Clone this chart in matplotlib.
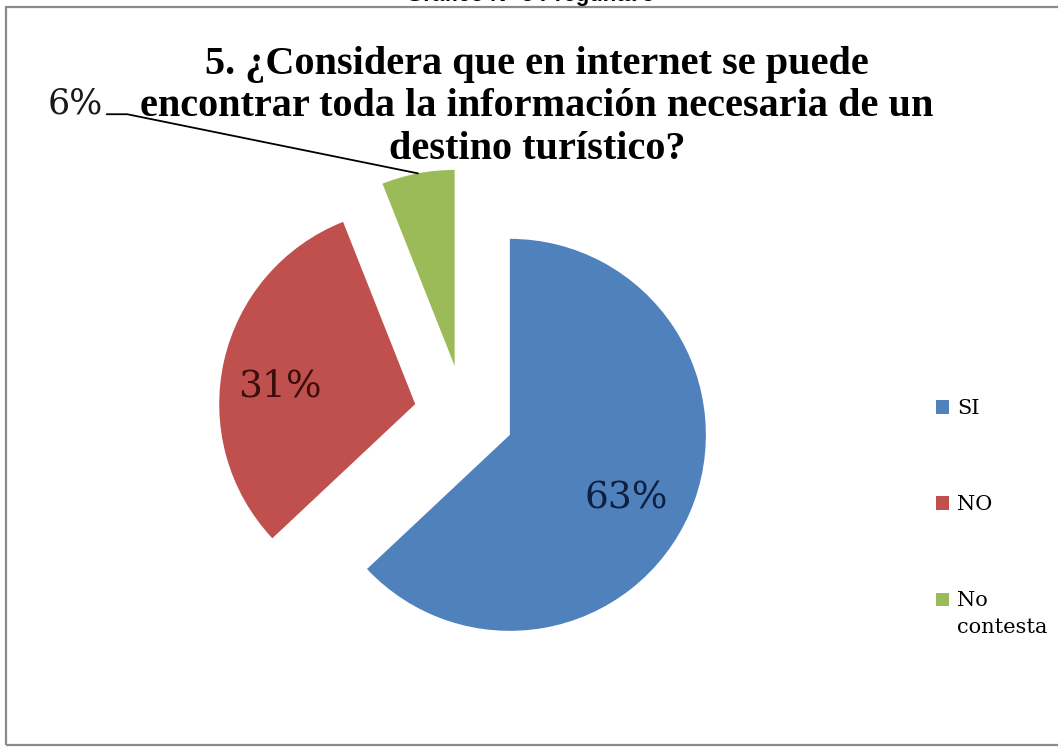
import matplotlib.pyplot as plt
from matplotlib.patches import Rectangle
from matplotlib.legend_handler import HandlerPatch
import numpy as np

# Survey answers for question 5
categories = ['SI', 'NO', 'No\ncontesta']
values = [63, 31, 6]
colors = ['#4F81BD', '#C0504D', '#9BBB59']
label_colors = ['#0f1f3d', '#3b0d0d', '#1a1a1a']

title = ('5. ¿Considera que en internet se puede\n'
         'encontrar toda la información necesaria de un\n'
         'destino turístico?')

W, H = 1058, 747
fig = plt.figure(figsize=(W / 100, H / 100), dpi=100)
ax = fig.add_axes([0, 0, 1, 1])

wedges, texts, autotexts = ax.pie(
    values, colors=colors, startangle=90, counterclock=False,
    explode=[0.255] * 3, radius=1,
    autopct=lambda p: f'{p:.0f}%', pctdistance=0.7,
    textprops=dict(family='DejaVu Serif', fontsize=27))
for wd, t, c, cat in zip(wedges, autotexts, label_colors, categories):
    t.set_color(c)
    wd.set_label(cat)

# nudge the in-slice labels to where they sit in the original layout
autotexts[0].set_position((0.827, -0.425))
autotexts[1].set_position((-0.939, 0.143))

# axes in units of the pie radius, pie centred where we want it on the page
cx, cy, R = 464, 415, 196
ax.set_xlim(-cx / R, (W - cx) / R)
ax.set_ylim(-(H - cy) / R, cy / R)
ax.axis('off')

# small slice gets its label outside with a leader line
autotexts[2].set_visible(False)
w = wedges[2]
mid = np.deg2rad((w.theta1 + w.theta2) / 2)
tip = (w.center[0] + w.r * np.cos(mid), w.center[1] + w.r * np.sin(mid))
ax.annotate(f'{values[2]}%', xy=tip, xytext=(-1.985, 1.59),
            ha='center', va='center', family='DejaVu Serif', fontsize=25,
            color=label_colors[2],
            arrowprops=dict(arrowstyle='-', color='black', lw=1.3,
                            relpos=(1.0, 0.18), shrinkA=1, shrinkB=0,
                            connectionstyle='angle,angleA=0,angleB=-11.5,rad=0'))

fig.text(537 / W, 1 - 107 / H, title, ha='center', va='center',
         family='Liberation Serif', fontweight='bold', fontsize=29,
         linespacing=1.2)

# heading of the page, cut off above the chart frame
fig.text(530 / W, 1 - 0.6 / H, 'Gráfico N° 5 Pregunta 5', ha='center',
         va='baseline', family='Liberation Sans', fontweight='bold',
         fontsize=16)


def top_line_square(legend, orig_handle, xdescent, ydescent, width, height,
                    fontsize):
    # keep the marker level with the first line of a wrapped label
    nlines = orig_handle.get_label().count('\n')
    return Rectangle((-xdescent, -ydescent + nlines * 0.72 * fontsize),
                     width, height)


leg = fig.legend(wedges, categories, loc='center left',
                 bbox_to_anchor=(936 / W, 1 - 518 / H), frameon=False,
                 prop=dict(family='DejaVu Serif', size=15), labelspacing=3.7,
                 handlelength=0.62, handleheight=0.62, handletextpad=0.4,
                 borderpad=0, borderaxespad=0,
                 handler_map={wd: HandlerPatch(patch_func=top_line_square)
                              for wd in wedges})
for t in leg.get_texts():
    t.set_linespacing(1.5)

# chart frame
fig.patches.append(Rectangle((6 / W, 2 / H), 1.2, 1 - 9 / H,
                             transform=fig.transFigure, fill=False,
                             edgecolor='#8a8a8a', lw=1.6))

fig.savefig('out.png', dpi=100, facecolor='white')
